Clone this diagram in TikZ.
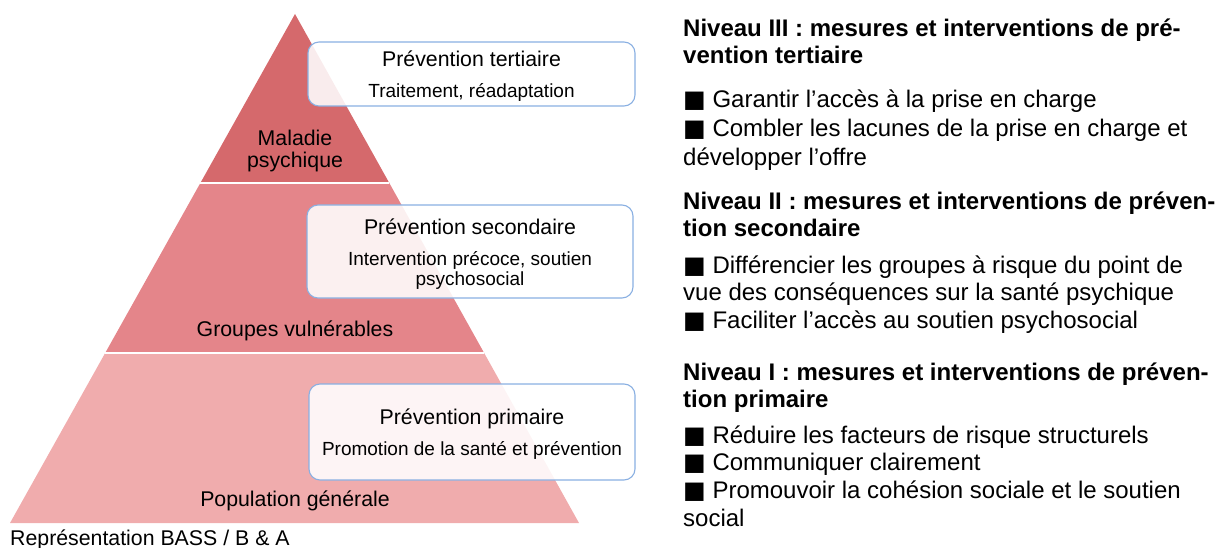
\documentclass[tikz,border=0pt]{standalone}
\usepackage{fontspec}
\setmainfont{Liberation Sans}
\newfontfamily\squarefont{DejaVu Sans}
\newcommand{\sq}{{\squarefont ■}}
\usetikzlibrary{calc,positioning}
\definecolor{tierA}{RGB}{213,105,108}
\definecolor{tierB}{RGB}{228,133,138}
\definecolor{tierC}{RGB}{240,172,173}
\definecolor{boxline}{RGB}{138,176,226}

\begin{document}
\begin{tikzpicture}[x=1pt, y=-1pt,
      level/.style={font=\fontsize{21.3}{22}\selectfont, align=center},
      prevbox/.style={draw=boxline, line width=1.1pt, fill=white, fill opacity=0.88, rounded corners=11pt},
      boxtext/.style={align=center, inner sep=0pt, font=\fontsize{19}{31}\selectfont},
      head/.style={anchor=north west, align=left, inner sep=0pt, font=\fontsize{24}{27}\selectfont\bfseries},
      bullets/.style={anchor=north west, align=left, inner sep=0pt, font=\fontsize{24}{27.6}\selectfont}]
      \useasboundingbox (0,0) rectangle (1223,548);
      % pyramid
      \coordinate (apex) at (295,14);
      \coordinate (bl) at (10,523);
      \coordinate (br) at (579,523);
      \fill[tierC] ($(apex)!0.666!(bl)$) -- (bl) -- (br) -- ($(apex)!0.666!(br)$) -- cycle;
      \fill[tierB] ($(apex)!0.332!(bl)$) -- ($(apex)!0.666!(bl)$) -- ($(apex)!0.666!(br)$) -- ($(apex)!0.332!(br)$) -- cycle;
      \fill[tierA] (apex) -- ($(apex)!0.332!(bl)$) -- ($(apex)!0.332!(br)$) -- cycle;
      \draw[white, line width=2pt] ($(apex)!0.332!(bl)$) -- ($(apex)!0.332!(br)$);
      \draw[white, line width=2pt] ($(apex)!0.666!(bl)$) -- ($(apex)!0.666!(br)$);
      \node[level] (maladie) at (295,150.5) {Maladie\\psychique};
      \node[level] (vulnerables) at (295,330.5) {Groupes vulnérables};
      \node[level] (population) at (295,500.5) {Population générale};
      \node[anchor=west, inner sep=0pt, font=\fontsize{21.3}{24}\selectfont] (source) at (10,540) {Représentation BASS / B \& A};
      % prevention boxes
      \node[prevbox, minimum width=327pt, minimum height=64pt] (tertiaire) at (471.5,74) {};
      \node[boxtext] (tertiaireT) at ([yshift=-2.5pt]tertiaire.center) {{\fontsize{21.3}{31}\selectfont Prévention tertiaire}\\Traitement, réadaptation};
      \node[prevbox, minimum width=326pt, minimum height=93pt] (secondaire) at (470,251.5) {};
      \node[boxtext] (secondaireT) at ([yshift=-2.5pt]secondaire.center) {{\fontsize{21.3}{31}\selectfont Prévention secondaire}\\Intervention précoce, soutien\\[-11pt]psychosocial};
      \node[prevbox, minimum width=326pt, minimum height=96pt] (primaire) at (472,432) {};
      \node[boxtext] (primaireT) at ([yshift=-2.5pt]primaire.center) {{\fontsize{21.3}{31}\selectfont Prévention primaire}\\Promotion de la santé et prévention};
      % measures
      \node[head] (niv3) at (683,19) {Niveau III : mesures et interventions de pré-\\vention tertiaire};
      \node[bullets, font=\fontsize{24}{29}\selectfont] (mes3) at (683,89.5) {\sq{} Garantir l’accès à la prise en charge\\\sq{} Combler les lacunes de la prise en charge et\\développer l’offre};
      \node[head] (niv2) at (683,192) {Niveau II : mesures et interventions de préven-\\tion secondaire};
      \node[bullets] (mes2) at (683,255.5) {\sq{} Différencier les groupes à risque du point de\\vue des conséquences sur la santé psychique\\\sq{} Faciliter l’accès au soutien psychosocial};
      \node[head] (niv1) at (683,362.5) {Niveau I : mesures et interventions de préven-\\tion primaire};
      \node[bullets] (mes1) at (683,425.5) {\sq{} Réduire les facteurs de risque structurels\\\sq{} Communiquer clairement\\\sq{} Promouvoir la cohésion sociale et le soutien\\social};
  \end{tikzpicture}
\end{document}
